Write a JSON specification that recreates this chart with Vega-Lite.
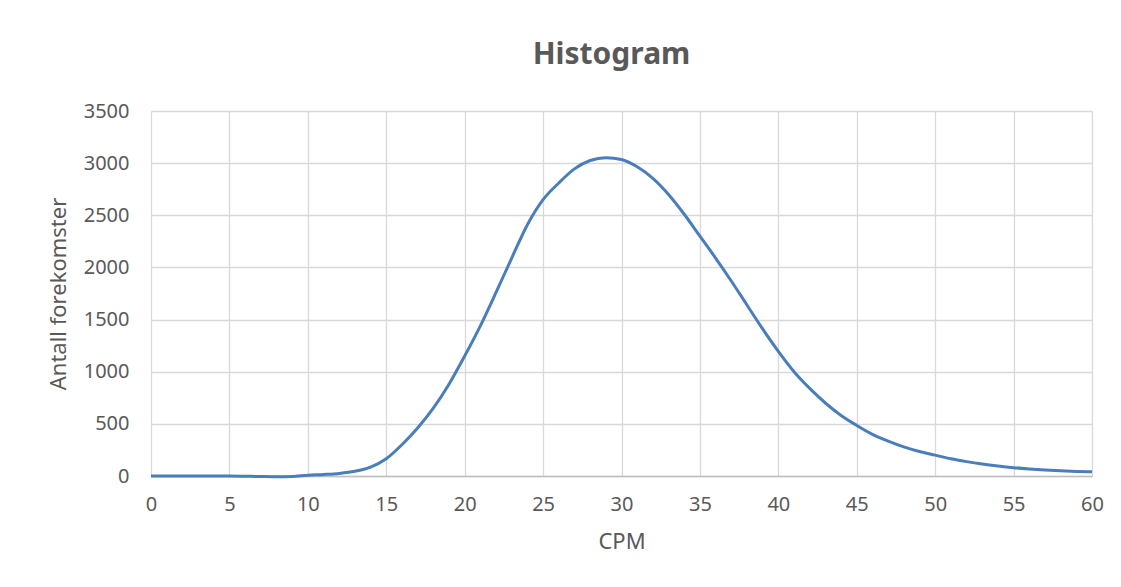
{
  "$schema": "https://vega.github.io/schema/vega-lite/v6.json",
  "width": 941,
  "height": 365,
  "autosize": {"type": "none"},
  "padding": {"left": 151, "top": 111, "right": 29, "bottom": 111},
  "background": "white",
  "title": {
    "text": "Histogram",
    "font": "Noto Sans",
    "fontSize": 30,
    "fontWeight": "bold",
    "color": "#595959",
    "anchor": "middle",
    "dx": -10,
    "offset": 31
  },
  "data": {
    "values": [
      {"cpm": 0, "count": 0}, {"cpm": 1, "count": 0}, {"cpm": 2, "count": 0}, {"cpm": 3, "count": 0},
      {"cpm": 4, "count": 0}, {"cpm": 5, "count": 0}, {"cpm": 6, "count": -2}, {"cpm": 7, "count": -5},
      {"cpm": 8, "count": -7}, {"cpm": 9, "count": -4}, {"cpm": 10, "count": 8}, {"cpm": 11, "count": 15},
      {"cpm": 12, "count": 25}, {"cpm": 13, "count": 45}, {"cpm": 14, "count": 85}, {"cpm": 15, "count": 165},
      {"cpm": 16, "count": 300}, {"cpm": 17, "count": 460}, {"cpm": 18, "count": 650}, {"cpm": 19, "count": 880},
      {"cpm": 20, "count": 1150}, {"cpm": 21, "count": 1440}, {"cpm": 22, "count": 1760}, {"cpm": 23, "count": 2090},
      {"cpm": 24, "count": 2410}, {"cpm": 25, "count": 2650}, {"cpm": 26, "count": 2810}, {"cpm": 27, "count": 2945},
      {"cpm": 28, "count": 3025}, {"cpm": 29, "count": 3052}, {"cpm": 30, "count": 3035}, {"cpm": 31, "count": 2965},
      {"cpm": 32, "count": 2855}, {"cpm": 33, "count": 2700}, {"cpm": 34, "count": 2510}, {"cpm": 35, "count": 2300},
      {"cpm": 36, "count": 2090}, {"cpm": 37, "count": 1870}, {"cpm": 38, "count": 1640}, {"cpm": 39, "count": 1410},
      {"cpm": 40, "count": 1195}, {"cpm": 41, "count": 1000}, {"cpm": 42, "count": 840}, {"cpm": 43, "count": 700},
      {"cpm": 44, "count": 580}, {"cpm": 45, "count": 485}, {"cpm": 46, "count": 400}, {"cpm": 47, "count": 335},
      {"cpm": 48, "count": 280}, {"cpm": 49, "count": 235}, {"cpm": 50, "count": 200}, {"cpm": 51, "count": 165},
      {"cpm": 52, "count": 138}, {"cpm": 53, "count": 115}, {"cpm": 54, "count": 96}, {"cpm": 55, "count": 80},
      {"cpm": 56, "count": 68}, {"cpm": 57, "count": 58}, {"cpm": 58, "count": 50}, {"cpm": 59, "count": 44},
      {"cpm": 60, "count": 40}
    ]
  },
  "mark": {"type": "line", "interpolate": "monotone", "color": "#4a7ebb", "strokeWidth": 3, "clip": false},
  "encoding": {
    "x": {
      "field": "cpm",
      "type": "quantitative",
      "title": "CPM",
      "scale": {"domain": [0, 60], "nice": false, "zero": false},
      "axis": {
        "values": [0, 5, 10, 15, 20, 25, 30, 35, 40, 45, 50, 55, 60],
        "format": "d",
        "ticks": false,
        "labelFlush": false,
        "labelBound": false,
        "domainColor": "#bfbfbf",
        "domainWidth": 1.5,
        "gridColor": "#d9d9d9",
        "gridWidth": 1.3,
        "labelFont": "Noto Sans",
        "labelFontSize": 20,
        "labelColor": "#595959",
        "labelPadding": 18,
        "titleFont": "Noto Sans",
        "titleFontSize": 22,
        "titleFontWeight": "normal",
        "titleColor": "#595959",
        "titlePadding": 17
      }
    },
    "y": {
      "field": "count",
      "type": "quantitative",
      "title": "Antall forekomster",
      "scale": {"domain": [0, 3500], "nice": false},
      "axis": {
        "values": [0, 500, 1000, 1500, 2000, 2500, 3000, 3500],
        "format": "d",
        "ticks": false,
        "domain": false,
        "labelBound": false,
        "gridColor": "#d9d9d9",
        "gridWidth": 1.3,
        "labelFont": "Noto Sans",
        "labelFontSize": 20,
        "labelColor": "#595959",
        "labelPadding": 22,
        "titleFont": "Noto Sans",
        "titleFontSize": 22,
        "titleFontWeight": "normal",
        "titleColor": "#595959",
        "titlePadding": 13
      }
    }
  },
  "config": {"view": {"stroke": null}}
}
